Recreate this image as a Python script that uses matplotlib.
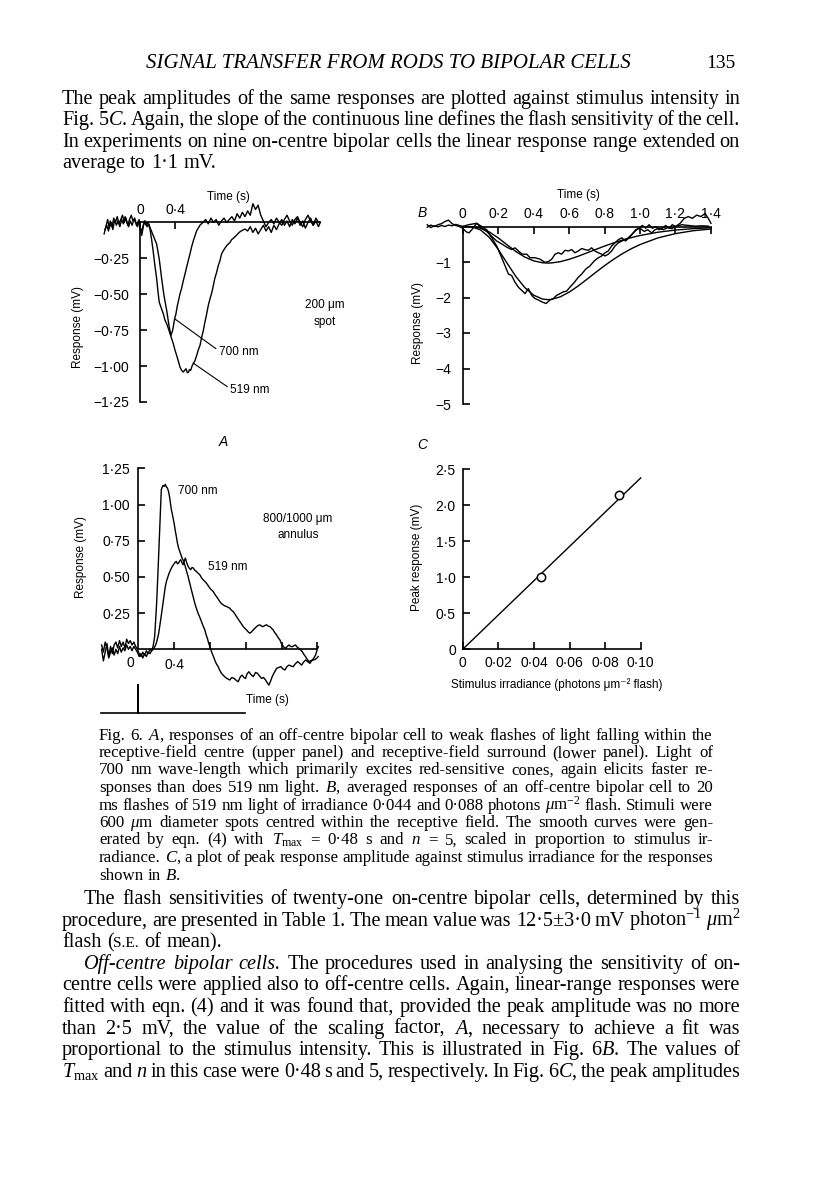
import numpy as np
import matplotlib
matplotlib.use('Agg')
import matplotlib.pyplot as plt

plt.rcParams['font.family'] = ['Liberation Sans', 'DejaVu Sans']
plt.rcParams['mathtext.fontset'] = 'custom'
plt.rcParams['mathtext.rm'] = 'Liberation Serif'
plt.rcParams['mathtext.it'] = 'Liberation Serif:italic'
plt.rcParams['mathtext.bf'] = 'Liberation Serif:bold'
SERIF = 'Liberation Serif'

# ---- data (time in s, response in mV) ----
# Fig. 6A upper panel: 200 um spot
spot_700 = [(-0.40, -0.05), (-0.38, -0.02), (-0.36, -0.06), (-0.34, 0.01), (-0.32, -0.03), (-0.30, 0.03),
            (-0.28, 0.00), (-0.26, 0.04), (-0.24, -0.01), (-0.22, 0.02), (-0.20, 0.05), (-0.18, 0.00),
            (-0.16, 0.03), (-0.14, -0.02), (-0.12, 0.02), (-0.10, 0.05), (-0.08, 0.01), (-0.06, 0.03),
            (-0.04, -0.02), (-0.02, 0.01), (0.00, -0.04), (0.02, -0.09), (0.04, -0.02), (0.06, 0.01),
            (0.08, -0.03), (0.10, -0.01), (0.114, -0.035), (0.152, -0.093), (0.19, -0.15), (0.22, -0.255),
            (0.248, -0.394), (0.274, -0.509), (0.305, -0.613), (0.331, -0.718), (0.354, -0.787),
            (0.373, -0.752), (0.396, -0.671), (0.41, -0.64), (0.427, -0.579), (0.44, -0.545),
            (0.457, -0.498), (0.475, -0.46), (0.495, -0.405), (0.51, -0.37), (0.533, -0.312),
            (0.55, -0.27), (0.571, -0.22), (0.59, -0.17), (0.61, -0.127), (0.63, -0.09), (0.648, -0.058),
            (0.686, -0.019), (0.72, 0.00), (0.75, 0.02), (0.78, -0.01), (0.81, 0.03), (0.84, 0.00),
            (0.87, 0.02), (0.90, -0.02), (0.93, 0.01), (0.96, 0.03), (0.99, 0.00), (1.02, 0.02),
            (1.05, 0.04), (1.08, 0.01), (1.11, 0.06), (1.14, 0.03), (1.17, 0.07), (1.20, 0.04),
            (1.23, 0.08), (1.26, 0.05), (1.29, 0.13), (1.32, 0.09), (1.35, 0.12), (1.38, 0.05),
            (1.41, 0.01), (1.44, -0.03), (1.47, 0.00), (1.50, 0.02), (1.53, -0.01), (1.56, 0.03),
            (1.59, 0.00), (1.62, -0.02), (1.65, 0.02), (1.68, 0.05), (1.71, 0.01), (1.74, -0.02),
            (1.77, 0.02), (1.80, 0.04), (1.83, 0.00), (1.86, -0.03), (1.89, 0.02), (1.92, 0.05),
            (1.95, 0.01), (1.98, -0.02), (2.01, 0.03), (2.04, 0.00)]
spot_519 = [(-0.41, -0.08), (-0.39, -0.03), (-0.37, 0.02), (-0.35, -0.04), (-0.33, 0.00), (-0.31, -0.05),
            (-0.29, 0.02), (-0.27, -0.02), (-0.25, 0.01), (-0.23, -0.03), (-0.21, 0.02), (-0.19, -0.01),
            (-0.17, 0.04), (-0.15, 0.00), (-0.13, -0.03), (-0.11, 0.01), (-0.09, -0.02), (-0.07, 0.02),
            (-0.05, 0.00), (-0.03, -0.03), (-0.01, 0.02), (0.01, -0.06), (0.03, -0.04), (0.05, 0.01),
            (0.07, -0.02), (0.09, 0.00), (0.114, -0.046), (0.133, -0.12), (0.152, -0.208), (0.17, -0.30),
            (0.19, -0.39), (0.205, -0.48), (0.22, -0.556), (0.245, -0.60), (0.267, -0.637), (0.285, -0.68),
            (0.305, -0.706), (0.325, -0.74), (0.343, -0.775), (0.362, -0.81), (0.381, -0.845),
            (0.40, -0.89), (0.419, -0.926), (0.44, -0.97), (0.457, -1.007), (0.475, -1.03),
            (0.495, -1.042), (0.51, -1.03), (0.526, -1.019), (0.54, -1.045), (0.552, -1.046),
            (0.565, -1.025), (0.579, -1.03), (0.595, -1.00), (0.61, -0.984), (0.63, -0.96),
            (0.648, -0.926), (0.665, -0.89), (0.686, -0.856), (0.705, -0.80), (0.724, -0.752),
            (0.74, -0.70), (0.762, -0.637), (0.78, -0.58), (0.80, -0.532), (0.82, -0.49), (0.838, -0.44),
            (0.855, -0.39), (0.876, -0.347), (0.895, -0.30), (0.914, -0.266), (0.932, -0.22),
            (0.952, -0.197), (0.97, -0.18), (0.99, -0.162), (1.01, -0.15), (1.029, -0.139),
            (1.047, -0.12), (1.067, -0.111), (1.085, -0.10), (1.105, -0.088), (1.125, -0.075),
            (1.143, -0.065), (1.17, -0.055), (1.20, -0.046), (1.23, -0.06), (1.26, -0.03), (1.29, -0.07),
            (1.32, -0.04), (1.35, -0.08), (1.38, -0.05), (1.41, -0.02), (1.44, -0.06), (1.47, -0.03),
            (1.50, -0.07), (1.53, -0.02), (1.56, -0.05), (1.59, -0.01), (1.62, 0.02), (1.65, -0.02),
            (1.68, 0.01), (1.71, -0.03), (1.74, 0.02), (1.77, -0.01), (1.80, 0.03), (1.83, -0.02),
            (1.86, 0.01), (1.89, -0.04), (1.92, 0.00), (1.95, 0.03), (1.98, -0.02), (2.01, 0.01),
            (2.04, -0.03), (2.06, 0.00)]

# Fig. 6A lower panel: 800/1000 um annulus
ann_700 = [(-0.41, 0.00), (-0.39, -0.08), (-0.37, -0.02), (-0.35, 0.04), (-0.33, -0.05), (-0.31, 0.02),
           (-0.29, -0.03), (-0.27, 0.03), (-0.25, 0.05), (-0.23, 0.01), (-0.21, 0.06), (-0.19, 0.02),
           (-0.17, 0.05), (-0.15, 0.01), (-0.13, 0.07), (-0.11, 0.04), (-0.09, 0.06), (-0.07, 0.03),
           (-0.05, 0.05), (-0.03, 0.02), (-0.01, 0.00), (0.01, -0.03), (0.03, -0.05), (0.05, -0.02),
           (0.07, -0.04), (0.09, -0.01), (0.11, -0.03), (0.13, 0.00), (0.15, -0.01), (0.165, 0.02),
           (0.183, 0.088), (0.205, 0.319), (0.224, 0.596), (0.243, 0.896), (0.257, 1.104), (0.276, 1.132),
           (0.29, 1.125), (0.302, 1.139), (0.315, 1.12), (0.325, 1.115), (0.338, 1.09), (0.351, 1.046),
           (0.369, 0.965), (0.38, 0.935), (0.392, 0.896), (0.403, 0.86), (0.414, 0.815), (0.425, 0.78),
           (0.437, 0.734), (0.45, 0.70), (0.463, 0.677), (0.475, 0.655), (0.489, 0.63), (0.505, 0.61),
           (0.519, 0.584), (0.535, 0.55), (0.556, 0.503), (0.575, 0.455), (0.593, 0.411), (0.61, 0.37),
           (0.631, 0.319), (0.65, 0.28), (0.668, 0.249), (0.688, 0.22), (0.705, 0.192), (0.725, 0.16),
           (0.743, 0.134), (0.758, 0.10), (0.772, 0.076), (0.785, 0.045), (0.799, 0.018), (0.812, -0.005),
           (0.825, -0.028), (0.84, -0.05), (0.854, -0.074), (0.872, -0.10), (0.892, -0.12), (0.91, -0.145),
           (0.929, -0.166), (0.95, -0.18), (0.974, -0.194), (1.0, -0.205), (1.022, -0.212), (1.045, -0.195),
           (1.071, -0.201), (1.095, -0.215), (1.116, -0.224), (1.14, -0.19), (1.16, -0.178), (1.18, -0.195),
           (1.198, -0.201), (1.215, -0.17), (1.235, -0.155), (1.26, -0.175), (1.284, -0.189), (1.31, -0.16),
           (1.332, -0.166), (1.355, -0.185), (1.377, -0.201), (1.40, -0.195), (1.422, -0.212), (1.44, -0.23),
           (1.459, -0.247), (1.478, -0.22), (1.496, -0.189), (1.52, -0.16), (1.545, -0.132), (1.57, -0.125),
           (1.593, -0.12), (1.615, -0.135), (1.638, -0.143), (1.66, -0.12), (1.683, -0.109), (1.705, -0.115),
           (1.731, -0.12), (1.755, -0.10), (1.78, -0.085), (1.80, -0.095), (1.825, -0.109), (1.845, -0.09),
           (1.869, -0.074), (1.893, -0.085), (1.918, -0.097), (1.935, -0.08), (1.955, -0.074),
           (1.975, -0.07), (1.993, -0.062), (2.01, -0.05)]
ann_519 = [(-0.41, 0.03), (-0.39, -0.02), (-0.37, 0.05), (-0.35, 0.01), (-0.33, -0.06), (-0.31, -0.02),
           (-0.29, 0.01), (-0.27, -0.04), (-0.25, 0.00), (-0.23, -0.03), (-0.21, 0.02), (-0.19, -0.02),
           (-0.17, 0.01), (-0.15, -0.01), (-0.13, 0.03), (-0.11, 0.00), (-0.09, 0.02), (-0.07, -0.01),
           (-0.05, 0.02), (-0.03, 0.00), (-0.01, -0.02), (0.01, -0.05), (0.03, -0.03), (0.05, -0.06),
           (0.07, -0.03), (0.09, -0.05), (0.11, -0.02), (0.13, -0.03), (0.15, -0.01), (0.175, 0.007),
           (0.19, 0.025), (0.201, 0.042), (0.215, 0.075), (0.228, 0.111), (0.24, 0.16), (0.25, 0.203),
           (0.263, 0.26), (0.276, 0.319), (0.29, 0.38), (0.302, 0.434), (0.317, 0.475), (0.332, 0.503),
           (0.347, 0.53), (0.362, 0.55), (0.377, 0.57), (0.392, 0.584), (0.41, 0.60), (0.425, 0.607),
           (0.438, 0.59), (0.451, 0.596), (0.462, 0.61), (0.474, 0.619), (0.487, 0.60), (0.50, 0.584),
           (0.513, 0.61), (0.526, 0.63), (0.54, 0.60), (0.556, 0.573), (0.57, 0.56), (0.586, 0.55),
           (0.60, 0.565), (0.616, 0.561), (0.632, 0.545), (0.649, 0.538), (0.668, 0.525), (0.687, 0.515),
           (0.705, 0.495), (0.724, 0.48), (0.742, 0.47), (0.761, 0.457), (0.78, 0.44), (0.799, 0.423),
           (0.818, 0.41), (0.836, 0.40), (0.855, 0.38), (0.873, 0.365), (0.89, 0.35), (0.91, 0.33),
           (0.93, 0.315), (0.948, 0.307), (0.966, 0.30), (0.985, 0.296), (1.003, 0.29), (1.022, 0.284),
           (1.04, 0.27), (1.06, 0.261), (1.078, 0.245), (1.097, 0.226), (1.115, 0.21), (1.134, 0.192),
           (1.153, 0.175), (1.172, 0.157), (1.19, 0.145), (1.209, 0.134), (1.228, 0.12), (1.246, 0.111),
           (1.265, 0.12), (1.284, 0.134), (1.302, 0.145), (1.321, 0.157), (1.34, 0.165), (1.358, 0.169),
           (1.377, 0.16), (1.396, 0.157), (1.415, 0.165), (1.433, 0.169), (1.452, 0.16), (1.47, 0.157),
           (1.49, 0.145), (1.507, 0.134), (1.525, 0.115), (1.545, 0.099), (1.563, 0.08), (1.582, 0.065),
           (1.595, 0.045), (1.608, 0.03), (1.627, 0.015), (1.646, 0.007), (1.665, 0.02), (1.683, 0.03),
           (1.70, 0.02), (1.72, 0.018), (1.74, 0.025), (1.757, 0.03), (1.775, 0.015), (1.795, 0.007),
           (1.813, -0.005), (1.832, -0.016), (1.85, -0.035), (1.869, -0.051), (1.888, -0.07),
           (1.907, -0.085), (1.925, -0.08), (1.944, -0.074), (1.962, -0.06), (1.981, -0.039),
           (1.995, -0.01), (2.011, 0.018)]
stim_t = [-0.42, 0.0, 0.0, 0.0, 1.19]
stim_v = [0, 0, 1, 0, 0]

# Fig. 6B: averaged responses to 0.044 and 0.088 photons um-2
avg_low = [(-0.20, 0.05), (-0.18, -0.03), (-0.16, 0.02), (-0.14, -0.01), (-0.12, 0.03), (-0.10, 0.00),
           (-0.08, 0.04), (-0.06, 0.02), (-0.04, 0.06), (-0.02, 0.03), (0.00, 0.00), (0.032, 0.05),
           (0.079, 0.09), (0.107, -0.05), (0.135, -0.14), (0.164, -0.28), (0.192, -0.41), (0.22, -0.49),
           (0.248, -0.58), (0.276, -0.65), (0.295, -0.60), (0.314, -0.69), (0.336, -0.78), (0.361, -0.78),
           (0.38, -0.88), (0.408, -0.88), (0.436, -0.92), (0.464, -1.01), (0.483, -0.99), (0.502, -0.92),
           (0.521, -0.78), (0.539, -0.74), (0.558, -0.78), (0.577, -0.67), (0.596, -0.69), (0.615, -0.65),
           (0.633, -0.74), (0.652, -0.69), (0.671, -0.62), (0.69, -0.65), (0.709, -0.67), (0.727, -0.60),
           (0.746, -0.69), (0.765, -0.74), (0.784, -0.78), (0.803, -0.83), (0.821, -0.78), (0.84, -0.69),
           (0.859, -0.55), (0.878, -0.46), (0.897, -0.41), (0.915, -0.37), (0.934, -0.32), (0.957, -0.21),
           (0.976, -0.09), (0.994, -0.05), (1.013, 0.03), (1.032, -0.05), (1.051, 0.05), (1.07, -0.05),
           (1.088, 0.00), (1.107, -0.09), (1.126, -0.05), (1.145, 0.03), (1.164, -0.05), (1.182, 0.05),
           (1.201, 0.00), (1.235, 0.05), (1.273, 0.03), (1.31, 0.01), (1.348, 0.02), (1.385, 0.01)]
avg_high = [(-0.20, -0.02), (-0.18, 0.04), (-0.16, 0.00), (-0.14, 0.05), (-0.12, 0.08), (-0.10, 0.14),
            (-0.08, 0.18), (-0.06, 0.08), (-0.04, 0.03), (-0.02, 0.00), (0.00, -0.05), (0.02, -0.15),
            (0.035, -0.18), (0.05, -0.10), (0.065, 0.00), (0.079, 0.09), (0.107, 0.00), (0.135, -0.09),
            (0.164, -0.32), (0.192, -0.55), (0.22, -0.88), (0.239, -1.11), (0.258, -1.34), (0.276, -1.38),
            (0.295, -1.57), (0.314, -1.71), (0.333, -1.80), (0.352, -1.89), (0.37, -1.75), (0.389, -1.94),
            (0.408, -2.03), (0.427, -2.07), (0.445, -2.12), (0.47, -2.17), (0.492, -2.07), (0.511, -2.03),
            (0.53, -1.94), (0.549, -1.89), (0.568, -1.84), (0.586, -1.82), (0.605, -1.71), (0.63, -1.57),
            (0.652, -1.43), (0.671, -1.34), (0.694, -1.20), (0.718, -1.11), (0.742, -0.97), (0.765, -0.88),
            (0.784, -0.83), (0.803, -0.74), (0.821, -0.69), (0.84, -0.55), (0.859, -0.46), (0.878, -0.37),
            (0.897, -0.32), (0.919, -0.41), (0.944, -0.28), (0.962, -0.18), (0.981, -0.09), (1.0, -0.05),
            (1.024, -0.14), (1.043, -0.09), (1.066, -0.18), (1.085, -0.09), (1.107, -0.05), (1.132, -0.09),
            (1.156, -0.03), (1.179, -0.06), (1.201, 0.00), (1.226, 0.09), (1.25, 0.23), (1.273, 0.28),
            (1.295, 0.23), (1.32, 0.32), (1.344, 0.28), (1.367, 0.37), (1.385, 0.23), (1.40, 0.09)]
# smooth curves of eqn. (4), Tmax = 0.48 s, n = 5
fit_t = [0.0, 0.05, 0.10, 0.15, 0.20, 0.25, 0.30, 0.35, 0.40, 0.45, 0.48, 0.50, 0.55, 0.60, 0.65,
         0.70, 0.75, 0.80, 0.85, 0.90, 0.95, 1.00, 1.10, 1.20, 1.30, 1.40]
fit_low = [0.0, -0.004, -0.046, -0.153, -0.32, -0.515, -0.705, -0.86, -0.967, -1.022, -1.03, -1.027,
           -0.991, -0.925, -0.84, -0.745, -0.647, -0.552, -0.464, -0.384, -0.314, -0.254, -0.162,
           -0.10, -0.06, -0.035]
fit_high = [0.0, -0.008, -0.093, -0.307, -0.641, -1.03, -1.409, -1.72, -1.934, -2.044, -2.06, -2.054,
            -1.982, -1.85, -1.681, -1.489, -1.294, -1.104, -0.927, -0.768, -0.628, -0.509, -0.323,
            -0.20, -0.119, -0.07]

# Fig. 6C: peak response against irradiance
irradiance = [0.044, 0.088]
peak = [1.00, 2.14]
line_x = [0.0, 0.10]
line_y = [0.0, 2.38]

# ---- page text ----
header = 'SIGNAL TRANSFER FROM RODS TO BIPOLAR CELLS'
page_no = '135'
para_top = [
    'The peak amplitudes of the same responses are plotted against stimulus intensity in',
    'Fig. 5$C$. Again, the slope of the continuous line defines the flash sensitivity of the cell.',
    'In experiments on nine on-centre bipolar cells the linear response range extended on',
    'average to 1·1 mV.',
]
caption = [
    'Fig. 6. $A$, responses of an off-centre bipolar cell to weak flashes of light falling within the',
    'receptive-field centre (upper panel) and receptive-field surround (lower panel). Light of',
    '700 nm wave-length which primarily excites red-sensitive cones, again elicits faster re-',
    'sponses than does 519 nm light. $B$, averaged responses of an off-centre bipolar cell to 20',
    r'ms flashes of 519 nm light of irradiance 0·044 and 0·088 photons $\mu$m$^{-2}$ flash. Stimuli were',
    r'600 $\mu$m diameter spots centred within the receptive field. The smooth curves were gen-',
    r'erated by eqn. (4) with $T_{\mathrm{max}}$ = 0·48 s and $n$ = 5, scaled in proportion to stimulus ir-',
    'radiance. $C$, a plot of peak response amplitude against stimulus irradiance for the responses',
    'shown in $B$.',
]
para_bottom = [
    'The flash sensitivities of twenty-one on-centre bipolar cells, determined by this',
    r'procedure, are presented in Table 1. The mean value was 12·5±3·0 mV photon$^{-1}$ $\mu$m$^{2}$',
    'flash (|~S.E. of mean).',
    '*Off-centre *bipolar *cells. The procedures used in analysing the sensitivity of on-',
    'centre cells were applied also to off-centre cells. Again, linear-range responses were',
    'fitted with eqn. (4) and it was found that, provided the peak amplitude was no more',
    'than 2·5 mV, the value of the scaling factor, $A$, necessary to achieve a fit was',
    'proportional to the stimulus intensity. This is illustrated in Fig. 6$B$. The values of',
    r'$T_{\mathrm{max}}$ and $n$ in this case were 0·48 s and 5, respectively. In Fig. 6$C$, the peak amplitudes',
]

W, H = 816, 1201
fig = plt.figure(figsize=(W / 100, H / 100), dpi=100)
renderer = fig.canvas.get_renderer()


def fx(px):
    return px / W


def fy(py):
    return 1 - py / H


def put(x, y, s, **kw):
    kw.setdefault('ha', 'center')
    kw.setdefault('va', 'center')
    return fig.text(fx(x), fy(y), s, **kw)


def set_line(line, x0, x1, y, size, justify=True):
    # lay one line of body text word by word, spreading the gaps to fill x0..x1
    words = []
    for w in line.split():
        pieces = []
        for p in w.split('|'):
            style, rel = 'normal', 1.0
            if p.startswith('*'):
                style, p = 'italic', p[1:]
            if p.startswith('~'):
                rel, p = 0.76, p[1:]
            t = put(x0, y, p, ha='left', va='baseline', family=SERIF, style=style, fontsize=size * rel)
            pieces.append([t, rel])
        words.append(pieces)

    def measure(sz):
        for ps in words:
            for item in ps:
                item[0].set_fontsize(sz * item[1])
        return [[item[0].get_window_extent(renderer).width for item in ps] for ps in words]

    min_gap = size * 100 / 72 * 0.17
    gap = size * 100 / 72 * 0.26
    pw = measure(size)
    if justify and len(words) > 1:
        sz = size
        gap = (x1 - x0 - sum(map(sum, pw))) / (len(words) - 1)
        while gap < min_gap and sz > size * 0.85:
            sz *= 0.98
            pw = measure(sz)
            gap = (x1 - x0 - sum(map(sum, pw))) / (len(words) - 1)
    x = x0
    for ps, ws in zip(words, pw):
        xx = x
        for item, w in zip(ps, ws):
            item[0].set_x(fx(xx))
            xx += w
        x += sum(ws) + gap


def panel(ox, sx, xlim, oy, sy, ylim):
    # ox, oy: pixel position of the data origin; sx, sy: pixels per data unit
    left = ox + xlim[0] * sx
    bottom = oy - ylim[0] * sy
    ax = fig.add_axes([fx(left), fy(bottom), (xlim[1] - xlim[0]) * sx / W, (ylim[1] - ylim[0]) * sy / H])
    ax.set_xlim(*xlim)
    ax.set_ylim(*ylim)
    ax.patch.set_visible(False)
    return ax


def axis_lines(ax, xside, xbounds, ybounds):
    for s in ax.spines.values():
        s.set_visible(False)
    for side, bounds in (('left', ybounds), (xside, xbounds)):
        sp = ax.spines[side]
        sp.set_visible(True)
        sp.set_position(('data', 0))
        sp.set_bounds(*bounds)
        sp.set_linewidth(1.2)
    ax.xaxis.set_ticks_position(xside)
    ax.yaxis.set_ticks_position('left')
    ax.tick_params(direction='in', length=5, width=1.2, labelsize=10)


def fmt(v, nd):
    s = f'{abs(v):.{nd}f}'.replace('.', '·')
    if v == 0:
        return '0'
    return ('\u2212' if v < 0 else '') + s


trace_kw = dict(color='black', lw=1.0)
LAB = 8.5

# ---- A, upper panel ----
ax = panel(140, 87.5, (-0.43, 2.09), 222.4, 143.6, (-1.29, 0.2))
axis_lines(ax, 'top', (0, 2.06), (-1.25, 0))
for tr in (spot_700, spot_519):
    t, v = np.array(tr).T
    ax.plot(t, v, **trace_kw)
ax.set_xticks([0, 0.4])
ax.set_xticklabels(['0', '0·4'])
yt = [-0.25, -0.5, -0.75, -1.0, -1.25]
ax.set_yticks(yt)
ax.set_yticklabels([fmt(v, 2) for v in yt])
ax.tick_params(axis='y', pad=8)
ax.tick_params(axis='x', pad=4)
ax.annotate('700 nm', xy=(0.40, -0.673), xytext=(0.90, -0.902), fontsize=LAB, va='center',
            arrowprops=dict(arrowstyle='-', lw=0.8, shrinkA=0, shrinkB=0, relpos=(0, 0.6)))
ax.annotate('519 nm', xy=(0.606, -0.979), xytext=(1.03, -1.166), fontsize=LAB, va='center',
            arrowprops=dict(arrowstyle='-', lw=0.8, shrinkA=0, shrinkB=0, relpos=(0, 0.6)))
put(228, 197, 'Time (s)', fontsize=LAB)
put(78, 327, 'Response (mV)', rotation=90, fontsize=LAB)
put(325, 305, '200 μm', fontsize=LAB)
put(325, 322, 'spot', fontsize=LAB)

# ---- B ----
ax = panel(462.7, 177.3, (-0.23, 1.47), 226.5, 35.5, (-5.1, 0.5))
axis_lines(ax, 'top', (0, 1.4), (-5, 0))
for tr in (avg_low, avg_high):
    t, v = np.array(tr).T
    ax.plot(t, v, **trace_kw)
ax.plot(fit_t, fit_low, **trace_kw)
ax.plot(fit_t, fit_high, **trace_kw)
xt = [0, 0.2, 0.4, 0.6, 0.8, 1.0, 1.2, 1.4]
ax.set_xticks(xt)
ax.set_xticklabels([fmt(v, 1) for v in xt])
yt = [-1, -2, -3, -4, -5]
ax.set_yticks(yt)
ax.set_yticklabels(['\u2212%d' % -v for v in yt])
ax.tick_params(axis='y', pad=8)
ax.tick_params(axis='x', pad=4)
put(422, 213, 'B', fontsize=10, style='italic')
put(578, 195, 'Time (s)', fontsize=LAB)
put(418, 323, 'Response (mV)', rotation=90, fontsize=LAB)

# ---- A, lower panel ----
ax = panel(138.3, 89.5, (-0.43, 2.05), 649.3, 144.8, (-0.3, 1.3))
axis_lines(ax, 'bottom', (0, 2.0), (0, 1.25))
for tr in (ann_700, ann_519):
    t, v = np.array(tr).T
    ax.plot(t, v, **trace_kw)
ax.set_xticks([0.4, 0.8, 1.2, 1.6, 2.0])
ax.set_xticklabels(['0·4', '', '', '', ''])
yt = [0.25, 0.5, 0.75, 1.0, 1.25]
ax.set_yticks(yt)
ax.set_yticklabels([fmt(v, 2) for v in yt])
ax.tick_params(axis='y', pad=6)
ax.tick_params(axis='x', pad=6)
put(130, 663, '0', fontsize=10)
put(223, 442, 'A', fontsize=10, style='italic')
put(81, 557, 'Response (mV)', rotation=90, fontsize=LAB)
put(198, 491, '700 nm', fontsize=LAB)
put(228, 567, '519 nm', fontsize=LAB)
put(298, 519, '800/1000 μm', fontsize=LAB)
put(298, 535, 'annulus', fontsize=LAB)
put(267, 700, 'Time (s)', fontsize=LAB)

# stimulus monitor under A
ax = panel(138.3, 89.5, (-0.45, 1.25), 712.7, 27.7, (-0.1, 1.1))
ax.axis('off')
ax.plot(stim_t, stim_v, color='black', lw=1.2)

# ---- C ----
ax = panel(462.7, 1780, (-0.003, 0.103), 649.3, 72, (-0.06, 2.56))
axis_lines(ax, 'bottom', (0, 0.10), (0, 2.5))
ax.plot(line_x, line_y, color='black', lw=1.0)
ax.plot(irradiance, peak, 'o', ms=6, mfc='white', mec='black', mew=1.1)
xt = [0, 0.02, 0.04, 0.06, 0.08, 0.10]
ax.set_xticks(xt)
ax.set_xticklabels([fmt(v, 2) for v in xt])
yt = [0, 0.5, 1.0, 1.5, 2.0, 2.5]
ax.set_yticks(yt)
ax.set_yticklabels([fmt(v, 1) for v in yt])
ax.tick_params(axis='y', pad=5)
ax.tick_params(axis='x', pad=5)
put(422, 445, 'C', fontsize=10, style='italic')
put(417, 557, 'Peak response (mV)', rotation=90, fontsize=LAB)
put(557, 685, 'Stimulus irradiance (photons μm\u207b\u00b2 flash)', fontsize=LAB)

# ---- page text ----
h = put(388, 68, header, va='baseline', family=SERIF, style='italic', fontsize=13)
h.set_fontsize(13 * 483 / h.get_window_extent(renderer).width)
put(721, 68, page_no, va='baseline', family=SERIF, fontsize=14)

for i, line in enumerate(para_top):
    set_line(line, 62, 740, 104 + 21.3 * i, 14.6, justify=i < len(para_top) - 1)
for i, line in enumerate(caption):
    set_line(line, 99, 713, 739.5 + 17.5 * i, 12.2, justify=i < len(caption) - 1)
for i, line in enumerate(para_bottom):
    x0 = 84 if i in (0, 3) else 62
    set_line(line, x0, 740, 904 + 21.6 * i, 14.6, justify=i != 2)

fig.savefig('out.png', dpi=100)
